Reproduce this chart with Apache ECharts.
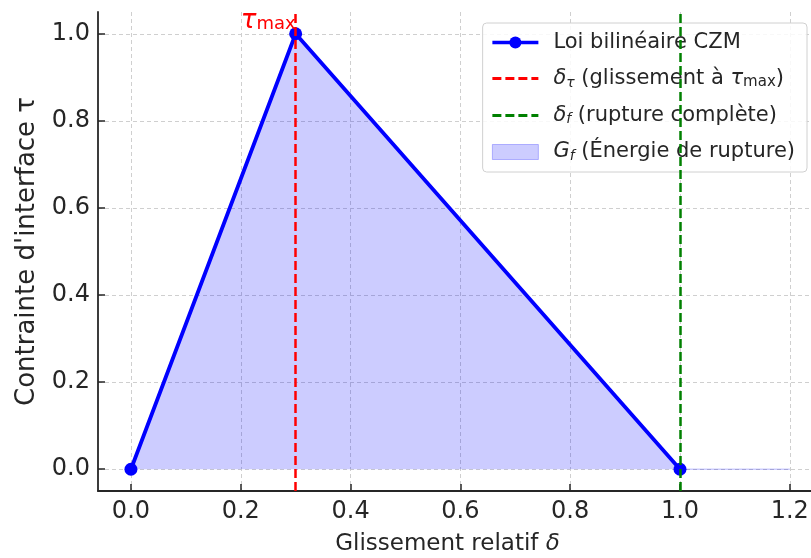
<!DOCTYPE html>
<html>
<head>
<meta charset="utf-8">
<script src="https://cdn.jsdelivr.net/npm/echarts@6/dist/echarts.min.js"></script>
<style>
  html, body { margin: 0; padding: 0; background: #fff; }
  #chart { width: 811px; height: 558px; }
</style>
</head>
<body>
<div id="chart"></div>
<script>
// loi bilinéaire : points (glissement, contrainte)
var slip = [0, 0.3, 1.0];
var stress = [0, 1.0, 0];
// zone remplie (énergie de rupture), prolongée jusqu'à 1.2
var fillSlip = [0, 0.3, 1.0, 1.2];
var fillStress = [0, 1.0, 0, 0];
var deltaTau = 0.3;
var deltaF = 1.0;
var tauMax = 1.0;
var xTicks = [0, 0.2, 0.4, 0.6, 0.8, 1.0, 1.2];
var yTicks = [0, 0.2, 0.4, 0.6, 0.8, 1.0];

var font = 'DejaVu Sans';
var ink = '#262626';

function pairs(xs, ys) {
    return xs.map(function (x, i) { return [x, ys[i]]; });
}

var legendLabels = {
    'czm': '{g| }Loi bilinéaire CZM',
    'dtau': '{g| }{i|δ}{sub|τ} (glissement à {i|τ}{sub2|max})',
    'df': '{g| }{i|δ}{sub|f} (rupture complète)',
    'gf': '{g| }{i|G}{sub|f} (Énergie de rupture)'
};

var myChart = echarts.init(document.getElementById('chart'));
option = {
    animation: false,
    textStyle: { fontFamily: font },
    grid: {
        left: 98,
        right: 0,
        top: 12,
        bottom: 67,
        containLabel: false,
        outerBoundsMode: 'none'
    },
    xAxis: {
        type: 'value',
        min: -0.06,
        max: 1.2386,
        name: 'Glissement relatif {i|δ}',
        nameLocation: 'middle',
        nameGap: 42,
        nameTextStyle: {
            fontSize: 23, color: ink, fontFamily: font,
            padding: [0, 14, 0, 0],
            rich: { i: { fontSize: 23, fontStyle: 'italic', color: ink, fontFamily: font } }
        },
        axisLine: { onZero: false, lineStyle: { color: ink, width: 1.8 } },
        axisTick: { inside: true, length: 7, customValues: xTicks, lineStyle: { color: ink, width: 1.5 } },
        axisLabel: {
            customValues: xTicks,
            fontSize: 24, color: ink, margin: 9,
            formatter: function (v) { return v.toFixed(1); }
        },
        splitLine: { show: true, lineStyle: { type: [4, 3], color: '#cfcfcf', width: 1 } }
    },
    yAxis: {
        type: 'value',
        min: -0.05,
        max: 1.05,
        name: "Contrainte d'interface τ",
        nameLocation: 'middle',
        nameGap: 58,
        nameTextStyle: { fontSize: 26, color: ink, fontFamily: font },
        axisLine: { show: true, onZero: false, lineStyle: { color: ink, width: 1.8 } },
        axisTick: { show: true, inside: true, length: 7, customValues: yTicks, lineStyle: { color: ink, width: 1.5 } },
        axisLabel: {
            customValues: yTicks,
            fontSize: 24, color: ink, margin: 8,
            formatter: function (v) { return v.toFixed(1); }
        },
        splitLine: { show: true, lineStyle: { type: [4, 3], color: '#cfcfcf', width: 1 } }
    },
    legend: {
        orient: 'vertical',
        right: 4,
        top: 23,
        padding: [9, 12, 9, 8],
        itemWidth: 46,
        itemHeight: 15,
        itemGap: 15,
        backgroundColor: 'rgba(255,255,255,0.85)',
        borderColor: '#d0d0d0',
        borderWidth: 1,
        borderRadius: 4,
        data: [
            { name: 'czm', lineStyle: { width: 3.5 } },
            { name: 'dtau', itemStyle: { opacity: 0 }, lineStyle: { width: 3 } },
            { name: 'df', itemStyle: { opacity: 0 }, lineStyle: { width: 3 } },
            { name: 'gf', icon: 'rect', itemStyle: { color: 'rgba(0,0,255,0.2)', borderColor: 'rgba(0,0,255,0.25)', borderWidth: 1 } }
        ],
        formatter: function (name) {
            return legendLabels[name];
        },
        textStyle: {
            fontSize: 21, color: ink, fontFamily: font,
            rich: {
                g: { width: 10, fontSize: 21 },
                i: { fontSize: 21, fontStyle: 'italic', color: ink, fontFamily: font },
                sub: { fontSize: 14, fontStyle: 'italic', color: ink, fontFamily: font, verticalAlign: 'bottom', padding: [8, 0, 0, 0] },
                sub2: { fontSize: 15, color: ink, fontFamily: font, verticalAlign: 'bottom', padding: [8, 0, 0, 0] }
            }
        }
    },
    series: [
        {
            name: 'gf',
            type: 'line',
            data: pairs(fillSlip, fillStress),
            symbol: 'none',
            lineStyle: { color: 'rgba(0,0,255,0.2)', width: 1.5 },
            itemStyle: { color: 'rgba(0,0,255,0.2)' },
            areaStyle: { color: 'rgba(0,0,255,0.2)', opacity: 1, origin: 0 },
            z: 1
        },
        {
            name: 'czm',
            type: 'line',
            data: pairs(slip, stress),
            symbol: 'circle',
            symbolSize: 13,
            lineStyle: { color: '#0000ff', width: 3.8 },
            itemStyle: { color: '#0000ff' },
            z: 3
        },
        {
            name: 'dtau',
            type: 'line',
            data: [],
            symbol: 'none',
            lineStyle: { color: '#ff0000', width: 2.5, type: [9, 4] },
            itemStyle: { color: '#ff0000' },
            z: 4,
            markLine: {
                silent: true,
                symbol: 'none',
                label: { show: false },
                lineStyle: { color: '#ff0000', width: 2.5, type: [9, 4] },
                data: [{ xAxis: deltaTau }]
            },
            markPoint: {
                silent: true,
                symbol: 'circle',
                symbolSize: 0,
                data: [{ coord: [deltaTau, tauMax] }],
                label: {
                    show: true,
                    position: [0, 0],
                    align: 'right',
                    verticalAlign: 'bottom',
                    formatter: '{t|τ}{s|max}',
                    rich: {
                        t: { fontSize: 26, fontStyle: 'italic', color: '#ff0000', fontFamily: font },
                        s: { fontSize: 18, color: '#ff0000', fontFamily: font, verticalAlign: 'bottom', padding: [8, 0, 0, 0] }
                    }
                }
            }
        },
        {
            name: 'df',
            type: 'line',
            data: [],
            symbol: 'none',
            lineStyle: { color: '#008000', width: 2.5, type: [9, 4] },
            itemStyle: { color: '#008000' },
            z: 4,
            markLine: {
                silent: true,
                symbol: 'none',
                label: { show: false },
                lineStyle: { color: '#008000', width: 2.5, type: [9, 4] },
                data: [{ xAxis: deltaF }]
            }
        }
    ]
};
myChart.setOption(option);
</script>
</body>
</html>
